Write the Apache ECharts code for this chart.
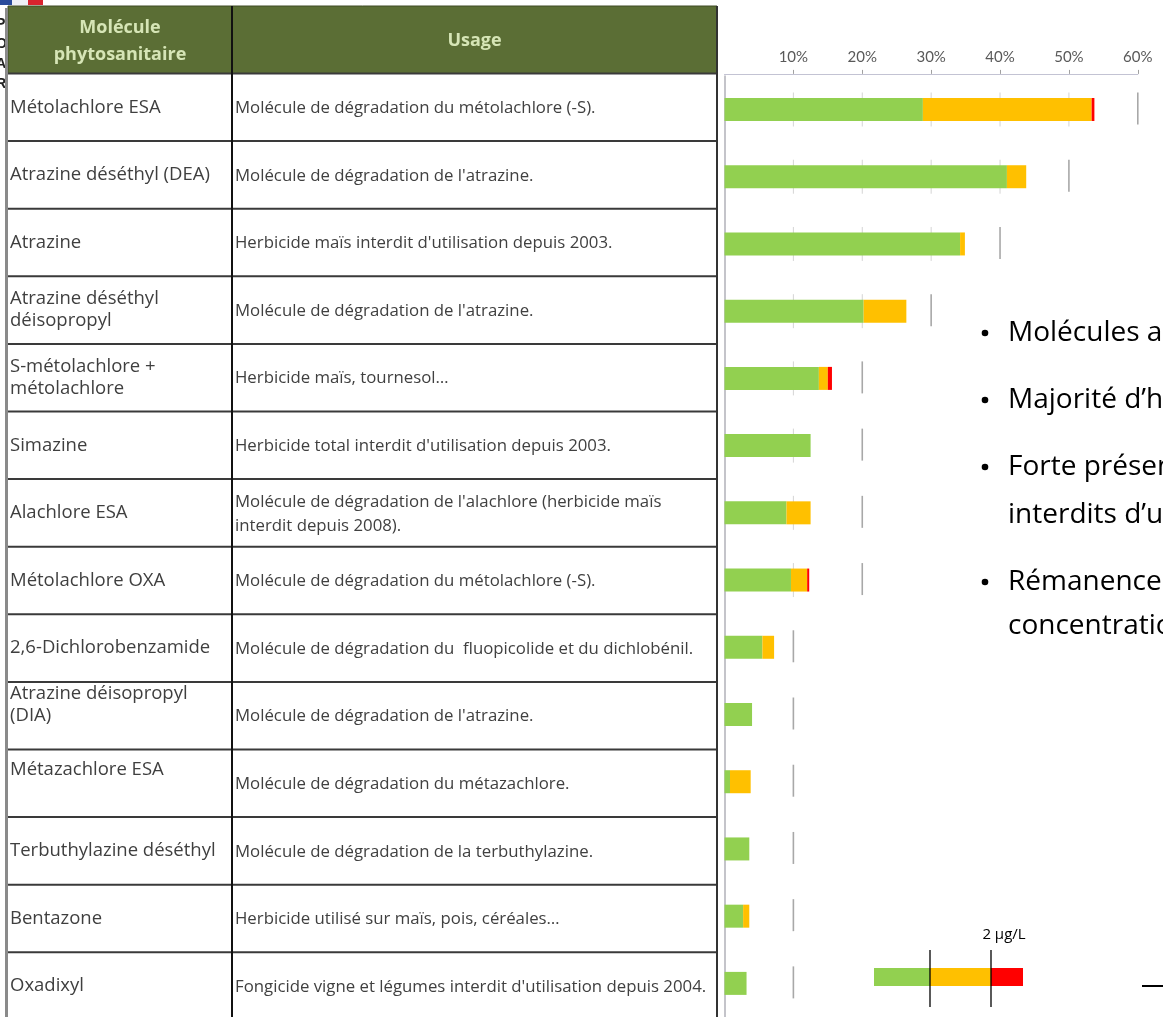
<!DOCTYPE html>
<html>
<head>
<meta charset="utf-8">
<script src="https://cdn.jsdelivr.net/npm/echarts@6/dist/echarts.min.js"></script>
<style>
html,body{margin:0;padding:0;background:#fff;}
#c{width:1163px;height:1017px;}
</style>
</head>
<body>
<div id="c"></div>
<script>
// ---------- DATA ----------
const molecules = [
  "Métolachlore ESA",
  "Atrazine déséthyl (DEA)",
  "Atrazine",
  "Atrazine déséthyl\ndéisopropyl",
  "S-métolachlore +\nmétolachlore",
  "Simazine",
  "Alachlore ESA",
  "Métolachlore OXA",
  "2,6-Dichlorobenzamide",
  "Atrazine déisopropyl\n(DIA)",
  "Métazachlore ESA",
  "Terbuthylazine déséthyl",
  "Bentazone",
  "Oxadixyl"
];
const usages = [
  "Molécule de dégradation du métolachlore (-S).",
  "Molécule de dégradation de l'atrazine.",
  "Herbicide maïs interdit d'utilisation depuis 2003.",
  "Molécule de dégradation de l'atrazine.",
  "Herbicide maïs, tournesol…",
  "Herbicide total interdit d'utilisation depuis 2003.",
  "Molécule de dégradation de l'alachlore (herbicide maïs\ninterdit depuis 2008).",
  "Molécule de dégradation du métolachlore (-S).",
  "Molécule de dégradation du  fluopicolide et du dichlobénil.",
  "Molécule de dégradation de l'atrazine.",
  "Molécule de dégradation du métazachlore.",
  "Molécule de dégradation de la terbuthylazine.",
  "Herbicide utilisé sur maïs, pois, céréales…",
  "Fongicide vigne et légumes interdit d'utilisation depuis 2004."
];
// stacked segment widths, in % of samples
const greenVals  = [28.8, 41.0, 34.2, 20.2, 13.7, 12.5, 9.0, 9.65, 5.5, 4.0, 0.8, 3.6, 2.7, 3.2];
const orangeVals = [24.5, 2.8, 0.7, 6.2, 1.3, 0, 3.5, 2.35, 1.7, 0, 3.0, 0, 0.9, 0];
const redVals    = [0.4, 0, 0, 0, 0.6, 0, 0, 0.3, 0, 0, 0, 0, 0, 0];
// per-row scale end marker (%)
const rowMax = [60, 50, 40, 30, 20, 20, 20, 20, 10, 10, 10, 10, 10, 10];
const xTicks = [0, 10, 20, 30, 40, 50, 60];
const headerCols = ["Molécule\nphytosanitaire", "Usage"];
const bullets = [
  {t: "Molécules a", b: true},
  {t: "Majorité d’h", b: true},
  {t: "Forte présen", b: true},
  {t: "interdits d’u", b: false},
  {t: "Rémanence", b: true},
  {t: "concentratio", b: false}
];
const legendLabel = "2 µg/L";

// ---------- LAYOUT ----------
const GREEN = '#92d050', ORANGE = '#ffc000', RED = '#ff0000';
const tableLeft = 8, tableRight = 717, colX = 232;
const tableTop = 73.5, rowH = 67.6;
const graphics = [];

// flag fragment + cropped logo letters
graphics.push({type:'rect', shape:{x:0,y:0,width:12,height:5}, style:{fill:'#2a4b9b'}});
graphics.push({type:'rect', shape:{x:12,y:0,width:16,height:5}, style:{fill:'#eef0f6'}});
graphics.push({type:'rect', shape:{x:28,y:0,width:15,height:5}, style:{fill:'#d9232e'}});
graphics.push({type:'text', x:-4, y:14, style:{text:'P\nO\nA\nR', font:'bold 14px "Liberation Sans"', fill:'#222', lineHeight:20}});

// header
graphics.push({type:'rect', shape:{x:tableLeft, y:6, width:tableRight-tableLeft, height:tableTop-6}, style:{fill:'#5b6e35', stroke:'#3e4b24', lineWidth:1}});
graphics.push({type:'text', x:(tableLeft+colX)/2, y:41, style:{text:headerCols[0], font:'bold 18px "Open Sans"', fill:'#d6e5b6', align:'center', verticalAlign:'middle', lineHeight:27}});
graphics.push({type:'text', x:(colX+tableRight)/2, y:41, style:{text:headerCols[1], font:'bold 18px "Open Sans"', fill:'#d6e5b6', align:'center', verticalAlign:'middle'}});

// rows
const nameOffset = {9:-11, 10:-14};
molecules.forEach((m, i) => {
  const y0 = tableTop + i*rowH, yc = y0 + rowH/2;
  graphics.push({type:'text', x:tableLeft+2, y:yc + (nameOffset[i]||0), style:{text:m, font:'18.5px "Open Sans"', fill:'#3f3f3f', align:'left', verticalAlign:'middle', lineHeight:22}});
  graphics.push({type:'text', x:colX+3, y:yc+1, style:{text:usages[i], font:'16.8px "Open Sans"', fill:'#404040', align:'left', verticalAlign:'middle', lineHeight:24}});
});
for (let i = 0; i <= molecules.length; i++) {
  const y = tableTop + i*rowH;
  graphics.push({type:'line', shape:{x1:tableLeft, y1:y, x2:tableRight, y2:y}, style:{stroke:'#3a3a3a', lineWidth:2}});
}
graphics.push({type:'line', shape:{x1:colX, y1:6, x2:colX, y2:1017}, style:{stroke:'#111', lineWidth:2}});
graphics.push({type:'line', shape:{x1:tableRight, y1:6, x2:tableRight, y2:1017}, style:{stroke:'#333', lineWidth:2}});
graphics.push({type:'line', shape:{x1:6.5, y1:8, x2:6.5, y2:1017}, style:{stroke:'#8a8a8a', lineWidth:3}});

// bullets
const bulletY = [333, 400, 467, 515, 582, 626];
bullets.forEach((b, i) => {
  if (b.b) graphics.push({type:'circle', shape:{cx:985, cy:bulletY[i], r:3.3}, style:{fill:'#000'}});
  graphics.push({type:'text', x:1008, y:bulletY[i], style:{text:b.t, font:'28px "Open Sans"', fill:'#000', align:'left', verticalAlign:'middle'}});
});

// colour legend
graphics.push({type:'rect', shape:{x:874, y:968, width:56, height:18}, style:{fill:GREEN}});
graphics.push({type:'rect', shape:{x:930, y:968, width:61, height:18}, style:{fill:ORANGE}});
graphics.push({type:'rect', shape:{x:991, y:968, width:32, height:18}, style:{fill:RED}});
graphics.push({type:'line', shape:{x1:930, y1:950, x2:930, y2:1007}, style:{stroke:'#000', lineWidth:1.3}});
graphics.push({type:'line', shape:{x1:991, y1:950, x2:991, y2:1007}, style:{stroke:'#000', lineWidth:1.3}});
graphics.push({type:'text', x:1004, y:935, style:{text:legendLabel, font:'15px "Open Sans"', fill:'#000', align:'center', verticalAlign:'middle'}});
graphics.push({type:'line', shape:{x1:1142, y1:986, x2:1163, y2:986}, style:{stroke:'#000', lineWidth:2}});

// ---------- CHART ----------
const chart = echarts.init(document.getElementById('c'), null, {renderer:'canvas'});
const markerData = rowMax.map((v, i) => [v, i]);

chart.setOption({
  animation: false,
  backgroundColor: '#fff',
  graphic: graphics,
  grid: {left: 724.5, width: 413.3, top: 75.9, height: 955.2, containLabel: false},
  xAxis: {
    type: 'value', position: 'top', min: xTicks[0], max: xTicks[xTicks.length-1], interval: 10, offset: 2,
    axisLine: {show: true, lineStyle: {color: '#c3c3d3', width: 1}},
    axisTick: {show: true, length: 4, lineStyle: {color: '#a0a0a0'}},
    axisLabel: {showMinLabel: false, formatter: v => v + '%', color: '#595959', fontFamily: 'Lato', fontSize: 15, margin: 9},
    splitLine: {show: false}
  },
  yAxis: {
    type: 'category', inverse: true, data: molecules,
    axisLine: {show: true, lineStyle: {color: '#b0b0b8', width: 1.5}},
    axisTick: {show: false}, axisLabel: {show: false}, splitLine: {show: false}
  },
  series: [
    {
      type: 'custom', z: 1, data: markerData,
      renderItem: function (params, api) {
        const max = api.value(0), row = api.value(1);
        const children = [];
        for (let k = 10; k < max; k += 10) {
          const p = api.coord([k, row]);
          children.push({type:'line', shape:{x1:p[0], y1:p[1]-17, x2:p[0], y2:p[1]+17}, style:{stroke:'#d4d4d4', lineWidth:1}});
        }
        const q = api.coord([max, row]);
        children.push({type:'line', shape:{x1:q[0], y1:q[1]-17, x2:q[0], y2:q[1]+15}, style:{stroke:'#a8a8a8', lineWidth:1.6}});
        return {type:'group', children: children};
      }
    },
    {type:'bar', stack:'s', z:2, barWidth:23, data: greenVals, itemStyle:{color:GREEN}},
    {type:'bar', stack:'s', z:2, barWidth:23, data: orangeVals, itemStyle:{color:ORANGE}},
    {type:'bar', stack:'s', z:2, barWidth:23, data: redVals, itemStyle:{color:RED}}
  ]
});
</script>
</body>
</html>
